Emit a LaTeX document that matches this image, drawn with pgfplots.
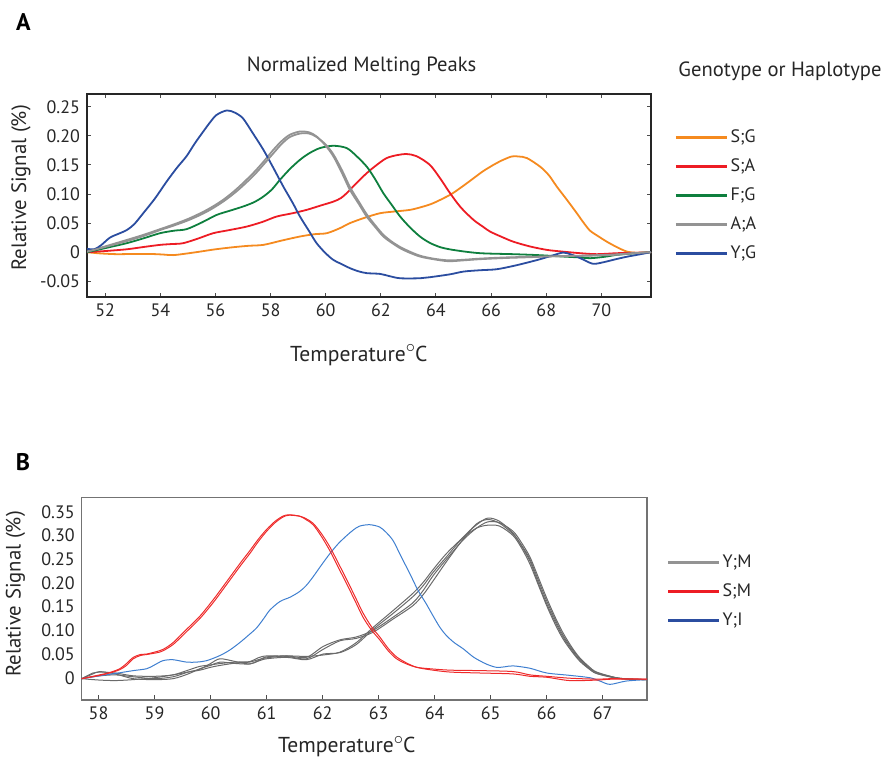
\documentclass[border=0pt]{standalone}
\usepackage{pgfplots}
\usepackage{pgfplotstable}
\pgfplotsset{compat=1.18}
\usepackage{fontspec}
\setmainfont{PT Sans}
\definecolor{cOrange}{HTML}{F58A1F}
\definecolor{cRed}{HTML}{ED1C24}
\definecolor{cGreen}{HTML}{0E7F3E}
\definecolor{cGray}{HTML}{939393}
\definecolor{cBlue}{HTML}{2B4DA0}
\definecolor{cBlueB}{HTML}{3F7FD0}
\definecolor{cGrayB}{HTML}{6A6A6A}
\definecolor{cRedB}{HTML}{EE2A2A}

\pgfplotstableread{
x y
51.34 0
51.8 -0.002
52.41 -0.0034
53.0 -0.003
53.62 -0.003
54.1 -0.004
54.47 -0.005
55.0 -0.002
55.44 0.001
56.0 0.005
56.65 0.0086
57.2 0.011
57.74 0.0126
58.4 0.02
59.07 0.027
59.6 0.031
60.04 0.0327
60.5 0.041
60.88 0.05
61.4 0.059
61.97 0.067
62.5 0.070
63.06 0.0728
63.5 0.078
63.9 0.0843
64.51 0.0986
64.9 0.111
65.36 0.127
65.7 0.139
66.08 0.150
66.4 0.158
66.75 0.1646
67.0 0.1645
67.3 0.1618
67.78 0.147
68.1 0.132
68.38 0.113
68.75 0.090
69.11 0.067
69.35 0.051
69.59 0.037
69.9 0.027
70.2 0.018
70.55 0.009
70.93 0.001
71.3 -0.001
71.8 0
}\tSG
\pgfplotstableread{
x y
51.34 0
52.0 0.002
52.78 0.005
53.4 0.009
53.99 0.0126
54.4 0.014
54.83 0.0155
55.4 0.024
55.92 0.0327
56.5 0.038
57.13 0.044
57.7 0.052
58.22 0.0613
58.8 0.067
59.31 0.0728
59.8 0.080
60.28 0.087
60.55 0.093
60.76 0.1015
61.1 0.118
61.49 0.136
61.85 0.150
62.21 0.1618
62.6 0.167
62.94 0.1687
63.3 0.165
63.78 0.150
64.15 0.127
64.51 0.1015
64.9 0.077
65.36 0.0556
65.7 0.044
65.96 0.0355
66.4 0.026
66.81 0.018
67.4 0.010
68.02 0.004
68.6 0.001
69.23 -0.0017
69.84 -0.0034
70.56 -0.0017
71.2 -0.001
71.8 0
}\tSA
\pgfplotstableread{
x y
51.34 0
52.0 0.007
52.78 0.0155
53.4 0.024
53.99 0.0327
54.5 0.037
54.95 0.0396
55.5 0.051
56.04 0.064
56.5 0.071
57.0 0.0785
57.4 0.086
57.74 0.0957
58.05 0.108
58.34 0.1244
58.7 0.143
59.07 0.159
59.4 0.170
59.79 0.179
60.28 0.183
60.76 0.179
61.1 0.166
61.49 0.147
61.8 0.125
62.09 0.1015
62.4 0.081
62.7 0.0613
63.05 0.043
63.42 0.0269
63.78 0.016
64.2 0.008
64.75 0.003
65.6 -0.0017
66.81 -0.0034
67.7 -0.005
68.62 -0.0075
69.2 -0.009
69.59 -0.0103
70.1 -0.008
70.56 -0.0046
71.2 -0.002
71.8 0
}\tFG
\pgfplotstableread{
x y
51.34 0.001
52.0 0.01
52.78 0.021
53.4 0.030
53.99 0.0396
54.5 0.048
55.07 0.0585
55.7 0.073
56.28 0.09
56.8 0.110
57.37 0.136
57.75 0.156
58.1 0.176
58.4 0.191
58.7 0.202
59.07 0.2075
59.4 0.206
59.67 0.199
60.0 0.183
60.28 0.1646
60.6 0.135
60.88 0.107
61.2 0.083
61.49 0.061
61.8 0.043
62.09 0.027
62.4 0.016
62.7 0.0069
63.0 0.0
63.42 -0.0075
63.9 -0.012
64.45 -0.0155
65.0 -0.014
65.6 -0.012
66.5 -0.010
67.4 -0.0086
68.3 -0.007
69.23 -0.0064
70.44 -0.0046
71.1 -0.002
71.8 0
}\tAAa
\pgfplotstableread{
x y
51.34 0.001
52.0 0.009
52.78 0.019
53.4 0.028
53.99 0.038
54.5 0.046
55.07 0.056
55.7 0.070
56.28 0.087
56.8 0.106
57.37 0.131
57.75 0.151
58.1 0.170
58.4 0.186
58.7 0.198
59.07 0.204
59.4 0.204
59.67 0.198
60.0 0.185
60.28 0.168
60.6 0.140
60.88 0.112
61.2 0.087
61.49 0.065
61.8 0.046
62.09 0.030
62.4 0.018
62.7 0.009
63.0 0.002
63.42 -0.006
63.9 -0.011
64.45 -0.014
65.0 -0.013
65.6 -0.011
66.5 -0.009
67.4 -0.008
68.3 -0.007
69.23 -0.006
70.44 -0.004
71.1 -0.002
71.8 0
}\tAAb
\pgfplotstableread{
x y
51.34 0.006
51.6 0.005
51.85 0.012
52.17 0.025
52.5 0.032
52.78 0.038
53.05 0.048
53.38 0.067
53.8 0.092
54.23 0.1215
54.6 0.145
54.95 0.165
55.25 0.187
55.56 0.2076
55.8 0.223
56.04 0.236
56.41 0.2437
56.7 0.240
57.0 0.23
57.35 0.205
57.74 0.176
58.1 0.145
58.46 0.113
58.8 0.085
59.07 0.061
59.4 0.036
59.67 0.0155
60.0 -0.002
60.28 -0.0133
60.6 -0.021
60.88 -0.0275
61.2 -0.033
61.49 -0.036
61.97 -0.0373
62.3 -0.041
62.7 -0.0448
63.42 -0.0448
63.78 -0.043
64.51 -0.038
65.0 -0.0333
65.6 -0.031
66.2 -0.0293
66.81 -0.0236
67.3 -0.018
67.78 -0.012
68.2 -0.006
68.62 -0.0006
68.9 -0.004
69.11 -0.0075
69.4 -0.014
69.71 -0.02
70.1 -0.017
70.44 -0.013
70.9 -0.008
71.29 -0.0046
71.8 0
}\tYG

\pgfplotstableread{
x y
57.7 -0.002
58.02 0.006
58.2 0.011
58.38 0.019
58.5 0.030
58.62 0.043
58.75 0.049
58.86 0.05
59.09 0.057
59.2 0.063
59.33 0.074
59.45 0.088
59.57 0.102
59.81 0.130
60.05 0.165
60.22 0.192
60.4 0.221
60.55 0.245
60.7 0.268
60.85 0.292
61.0 0.313
61.15 0.330
61.29 0.341
61.4 0.344
61.59 0.341
61.7 0.334
61.83 0.323
61.98 0.298
62.13 0.268
62.28 0.233
62.43 0.198
62.58 0.162
62.72 0.128
62.87 0.101
63.02 0.08
63.17 0.057
63.32 0.04
63.5 0.029
63.68 0.022
63.91 0.019
64.27 0.016
64.8 0.015
65.4 0.013
65.7 0.006
66.0 0.003
66.41 -0.001
66.89 -0.003
67.18 -0.002
67.79 -0.003
}\tSMa
\pgfplotstableread{
x y
57.7 -0.002
58.02 0.005
58.2 0.010
58.38 0.017
58.5 0.026
58.62 0.040
58.75 0.047
58.86 0.049
59.09 0.054
59.2 0.060
59.33 0.070
59.45 0.083
59.57 0.097
59.81 0.125
60.05 0.159
60.22 0.186
60.4 0.215
60.55 0.239
60.7 0.262
60.85 0.287
61.0 0.309
61.15 0.327
61.29 0.339
61.4 0.343
61.59 0.341
61.7 0.336
61.83 0.326
61.98 0.304
62.13 0.276
62.28 0.242
62.43 0.207
62.58 0.171
62.72 0.137
62.87 0.108
63.02 0.086
63.17 0.062
63.32 0.044
63.5 0.031
63.68 0.022
63.91 0.017
64.27 0.012
64.8 0.010
65.4 0.008
65.7 0.003
66.0 0.001
66.41 -0.006
66.89 -0.005
67.18 -0.003
67.79 -0.003
}\tSMb
\pgfplotstableread{
x y
57.7 -0.002
58.02 0.004
58.3 0.009
58.62 0.015
58.86 0.019
59.0 0.027
59.15 0.036
59.33 0.038
59.57 0.033
59.75 0.033
59.93 0.036
60.17 0.047
60.35 0.059
60.52 0.074
60.67 0.089
60.82 0.105
60.95 0.125
61.06 0.143
61.24 0.161
61.42 0.170
61.59 0.182
61.71 0.195
61.83 0.213
61.98 0.238
62.13 0.262
62.28 0.283
62.43 0.300
62.55 0.312
62.66 0.320
62.84 0.323
63.02 0.318
63.14 0.306
63.26 0.289
63.4 0.256
63.56 0.219
63.7 0.185
63.85 0.156
63.95 0.135
64.09 0.107
64.21 0.089
64.35 0.074
64.51 0.061
64.7 0.043
64.92 0.029
65.1 0.022
65.25 0.023
65.4 0.025
65.7 0.02
66.0 0.01
66.41 0.005
66.77 0.0
66.95 -0.007
67.13 -0.014
67.42 -0.007
67.79 -0.004
}\tYI
\pgfplotstableread{
x y1 y2 y3 y4
57.7 -0.002 -0.002 -0.002 -0.002
57.9 0.008 0.002 -0.004 0.010
58.02 0.013 0.004 -0.005 0.012
58.3 0.008 0.006 -0.006 0.010
58.62 -0.002 0.002 -0.004 0.004
59.0 -0.004 -0.002 0.0 0.003
59.33 -0.002 0.002 0.006 0.006
59.6 0.008 0.012 0.012 0.016
59.81 0.019 0.018 0.016 0.024
60.0 0.026 0.030 0.022 0.027
60.17 0.033 0.040 0.026 0.030
60.45 0.030 0.034 0.031 0.033
60.7 0.029 0.029 0.033 0.034
60.85 0.035 0.036 0.038 0.042
61.0 0.04 0.044 0.042 0.046
61.36 0.043 0.046 0.046 0.045
61.71 0.038 0.043 0.045 0.040
62.01 0.05 0.066 0.048 0.060
62.31 0.053 0.080 0.054 0.078
62.6 0.07 0.086 0.074 0.083
62.9 0.102 0.100 0.106 0.096
63.26 0.136 0.128 0.142 0.124
63.61 0.171 0.158 0.178 0.152
63.8 0.195 0.185 0.202 0.176
63.97 0.222 0.215 0.228 0.204
64.21 0.255 0.250 0.262 0.245
64.51 0.297 0.291 0.296 0.293
64.75 0.323 0.316 0.316 0.325
64.95 0.337 0.329 0.322 0.334
65.16 0.330 0.327 0.320 0.326
65.4 0.305 0.309 0.300 0.303
65.55 0.278 0.285 0.274 0.280
65.7 0.246 0.255 0.240 0.250
65.85 0.200 0.212 0.196 0.206
66.0 0.156 0.168 0.152 0.162
66.15 0.118 0.128 0.113 0.123
66.29 0.086 0.095 0.082 0.090
66.45 0.058 0.064 0.055 0.061
66.59 0.037 0.042 0.035 0.040
66.75 0.020 0.024 0.019 0.022
66.89 0.009 0.012 0.009 0.011
67.24 -0.001 0.0 0.0 0.0
67.5 -0.003 -0.003 -0.003 -0.003
67.79 -0.004 -0.004 -0.004 -0.004
}\tYM

\begin{document}
\begin{tikzpicture}
\useasboundingbox (0,0) rectangle (445pt,379.5pt);
\pgfplotsset{
  every axis/.append style={
    scale only axis,
    clip mode=individual,
    font=\fontsize{9}{10}\selectfont,
    tick label style={font=\fontsize{9}{10}\selectfont, text=black!85},
    /pgf/number format/assume math mode=true,
    legend cell align=left,
    legend image code/.code={\draw[#1, line width=1.6pt] (0pt,0pt) -- (25.5pt,0pt);},
  },
}
% Panel A
\begin{axis}[
  at={(43.5pt,231pt)}, anchor=south west,
  width=282pt, height=101.5pt,
  xmin=51.34, xmax=71.8, ymin=-0.077, ymax=0.272,
  xtick={52,54,...,70},
  xticklabels={52,54,56,58,60,62,64,66,68,70},
  ytick={-0.05,0,0.05,0.1,0.15,0.2,0.25},
  yticklabels={-0.05,0,0.05,0.10,0.15,0.20,0.25},
  tick align=inside, major tick length=2pt,
  tick style={black!70, line width=0.5pt},
  axis line style={black!85, line width=0.9pt},
  every axis y label/.style={at={(axis description cs:-0.117,0.537)}, rotate=90, anchor=center, font=\fontsize{10.4}{12}\selectfont, text=black!85},
  every axis x label/.style={at={(axis description cs:0.482,-0.286)}, anchor=center, font=\fontsize{10.8}{12}\selectfont, text=black!85},
  ylabel={Relative Signal (\%)},
  xlabel={Temperature\raisebox{0.8ex}{\fontsize{9}{9}\selectfont$\circ$}C},
  legend style={draw=none, fill=none, at={(1.030,0.86)}, anchor=north west,
    row sep=3.5pt, font=\fontsize{9}{10}\selectfont,
    nodes={inner sep=1pt, text height=7pt, text depth=2pt, text=black!85}},
]
\addplot[cOrange, line width=0.9pt, smooth] table {\tSG};
\addlegendentry{S;G}
\addplot[cRed, line width=0.9pt, smooth] table {\tSA};
\addlegendentry{S;A}
\addplot[cGreen, line width=0.9pt, smooth] table {\tFG};
\addlegendentry{F;G}
\addplot[cGray, line width=0.9pt, smooth] table {\tAAa};
\addlegendentry{A;A}
\addplot[cBlue, line width=0.9pt, smooth] table {\tYG};
\addlegendentry{Y;G}
\addplot[cGray, line width=0.9pt, smooth, forget plot] table {\tAAb};
\node[anchor=center, font=\fontsize{10.3}{12}\selectfont, text=black!85] at (axis description cs:0.487,1.138) {Normalized Melting Peaks};
\node[anchor=west, inner sep=0pt, font=\fontsize{10.3}{12}\selectfont, text=black!85] at (axis description cs:1.048,1.113) {Genotype or Haplotype};
\node[anchor=center, font=\fontsize{12}{13}\selectfont\bfseries] at (axis description cs:-0.113,1.355) {A};
\end{axis}

% Panel B
\begin{axis}[
  at={(40.85pt,29.5pt)}, anchor=south west,
  width=282.65pt, height=101.15pt,
  xmin=57.7, xmax=67.79, ymin=-0.047, ymax=0.38,
  xtick={58,59,...,67},
  xticklabels={58,59,60,61,62,63,64,65,66,67},
  ytick={0,0.05,...,0.35},
  yticklabels={0,0.05,0.10,0.15,0.20,0.25,0.30,0.35},
  tick align=inside, major tick length=2.5pt,
  ytick style={draw=none},
  xtick style={black!70, line width=0.5pt},
  xtick pos=bottom,
  axis line style={black!55, line width=0.7pt},
  every axis y label/.style={at={(axis description cs:-0.117,0.524)}, rotate=90, anchor=center, font=\fontsize{10.4}{12}\selectfont, text=black!85},
  every axis x label/.style={at={(axis description cs:0.469,-0.231)}, anchor=center, font=\fontsize{10.8}{12}\selectfont, text=black!85},
  ylabel={Relative Signal (\%)},
  xlabel={Temperature\raisebox{0.8ex}{\fontsize{9}{9}\selectfont$\circ$}C},
  legend style={draw=none, fill=none, at={(1.023,0.756)}, anchor=north west,
    row sep=3.5pt, font=\fontsize{9}{10}\selectfont,
    nodes={inner sep=1pt, text height=7pt, text depth=2pt, text=black!85}},
]
\addlegendimage{cGray, line width=1.6pt}
\addlegendentry{Y;M}
\addlegendimage{cRed, line width=1.6pt}
\addlegendentry{S;M}
\addlegendimage{cBlue, line width=1.6pt}
\addlegendentry{Y;I}
\addplot[cGrayB, line width=0.5pt, smooth, forget plot] table[x=x, y=y1] {\tYM};
\addplot[cGrayB, line width=0.5pt, smooth, forget plot] table[x=x, y=y2] {\tYM};
\addplot[cGrayB, line width=0.5pt, smooth, forget plot] table[x=x, y=y3] {\tYM};
\addplot[cGrayB, line width=0.5pt, smooth, forget plot] table[x=x, y=y4] {\tYM};
\addplot[cBlueB, line width=0.5pt, smooth, forget plot] table {\tYI};
\addplot[cRedB, line width=0.5pt, smooth, forget plot] table {\tSMa};
\addplot[cRedB, line width=0.5pt, smooth, forget plot] table {\tSMb};
\node[anchor=center, font=\fontsize{12}{13}\selectfont\bfseries] at (axis description cs:-0.104,1.178) {B};
\end{axis}
\end{tikzpicture}
\end{document}
